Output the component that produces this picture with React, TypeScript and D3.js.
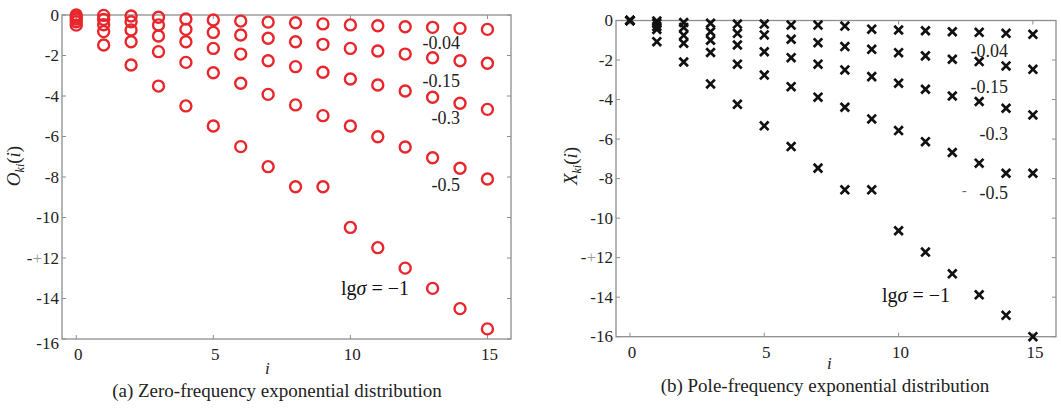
import React, { useEffect, useRef } from 'react';
import * as d3 from 'd3';

// sample index i
const indices = [0, 1, 2, 3, 4, 5, 6, 7, 8, 9, 10, 11, 12, 13, 14, 15];
const xTicks = [0, 5, 10, 15];
const yTicks = [0, -2, -4, -6, -8, -10, -12, -14, -16];
const yTickLabels = ['0', '-2', '-4', '-6', '-8', '-10', '-+12', '-14', '-16'];
const sigmaLabels = ['-0.04', '-0.15', '-0.3', '-0.5'];

// (a) zero-frequency, one array per lg(sigma)
const zeroS004 = [0, -0.02, -0.05, -0.11, -0.2, -0.25, -0.3, -0.35, -0.38, -0.44, -0.49, -0.53, -0.58, -0.61, -0.66, -0.71];
const zeroS015 = [-0.1, -0.22, -0.33, -0.49, -0.71, -0.86, -0.99, -1.15, -1.32, -1.45, -1.65, -1.78, -1.93, -2.11, -2.26, -2.38];
const zeroS03 = [-0.2, -0.48, -0.74, -1.04, -1.32, -1.65, -1.93, -2.26, -2.55, -2.83, -3.16, -3.46, -3.75, -4.06, -4.36, -4.66];
const zeroS05 = [-0.33, -0.82, -1.32, -1.81, -2.34, -2.85, -3.37, -3.92, -4.44, -4.97, -5.48, -6.01, -6.52, -7.05, -7.57, -8.1];
const zeroS1 = [-0.5, -1.48, -2.47, -3.51, -4.49, -5.48, -6.5, -7.49, -8.48, -8.48, -10.49, -11.49, -12.5, -13.5, -14.5, -15.5];

// (b) pole-frequency
const poleS004 = [0, -0.03, -0.1, -0.14, -0.18, -0.18, -0.23, -0.23, -0.28, -0.44, -0.48, -0.52, -0.57, -0.6, -0.65, -0.7];
const poleS015 = [0, -0.15, -0.35, -0.57, -0.65, -0.73, -0.95, -1.12, -1.32, -1.46, -1.63, -1.79, -1.96, -2.08, -2.3, -2.47];
const poleS03 = [0, -0.3, -0.75, -1.0, -1.24, -1.58, -1.88, -2.21, -2.5, -2.84, -3.17, -3.48, -3.82, -4.1, -4.44, -4.78];
const poleS05 = [0, -0.45, -1.15, -1.62, -2.21, -2.76, -3.35, -3.88, -4.39, -4.98, -5.57, -6.13, -6.68, -7.22, -7.73, -7.73];
const poleS1 = [0, -1.07, -2.1, -3.21, -4.24, -5.33, -6.38, -7.47, -8.57, -8.57, -10.64, -11.72, -12.82, -13.88, -14.92, -16.0];

const FONT = '"Liberation Serif", "Times New Roman", serif';
const AXIS = '#8e8e8e';
const RED = '#e8262b';

function drawPanel(svg, p) {
  const x = d3.scaleLinear().domain([-0.52, 15.86]).range([p.left, p.right]);
  const y = d3.scaleLinear().domain([0, -16]).range([p.top, p.bottom]);
  const g = svg.append('g');

  // box with inward ticks on all sides
  g.append('rect')
    .attr('x', p.left).attr('y', p.top)
    .attr('width', p.right - p.left).attr('height', p.bottom - p.top)
    .attr('fill', 'none').attr('stroke', AXIS).attr('stroke-width', 1.3);

  const tl = 4;
  xTicks.forEach((t) => {
    g.append('line').attr('x1', x(t)).attr('x2', x(t)).attr('y1', p.bottom).attr('y2', p.bottom - tl)
      .attr('stroke', AXIS);
    g.append('line').attr('x1', x(t)).attr('x2', x(t)).attr('y1', p.top).attr('y2', p.top + tl)
      .attr('stroke', AXIS);
    g.append('text').attr('x', x(t) + 2).attr('y', p.bottom + 21)
      .attr('text-anchor', 'middle').attr('font-family', FONT).attr('font-size', 17).attr('fill', '#222')
      .text(t);
  });
  yTicks.forEach((t, k) => {
    g.append('line').attr('x1', p.left).attr('x2', p.left + tl).attr('y1', y(t)).attr('y2', y(t))
      .attr('stroke', AXIS);
    g.append('line').attr('x1', p.right).attr('x2', p.right - tl).attr('y1', y(t)).attr('y2', y(t))
      .attr('stroke', AXIS);
    const label = yTickLabels[k];
    const txt = g.append('text').attr('x', p.left - 3).attr('y', y(t) + 5.5 + (t === -16 ? p.lastShift : 0))
      .attr('text-anchor', 'end').attr('font-family', FONT).attr('font-size', 17).attr('fill', '#222');
    if (label.includes('+')) {
      const parts = label.split('+');
      txt.append('tspan').text(parts[0]);
      txt.append('tspan').attr('fill', '#999').text('+');
      txt.append('tspan').text(parts[1]);
    } else {
      txt.text(label);
    }
  });

  // markers
  p.series.forEach((values) => {
    const pts = g.append('g');
    values.forEach((v, k) => {
      const cx = x(indices[k]);
      const cy = y(v);
      if (p.marker === 'circle') {
        pts.append('circle').attr('cx', cx).attr('cy', cy).attr('r', 5.5)
          .attr('fill', 'none').attr('stroke', RED).attr('stroke-width', 2.4);
      } else {
        const s = 4.3;
        pts.append('path')
          .attr('d', `M${cx - s},${cy - s}L${cx + s},${cy + s}M${cx - s},${cy + s}L${cx + s},${cy - s}`)
          .attr('stroke', '#111').attr('stroke-width', 2.7).attr('fill', 'none');
      }
    });
  });

  // series labels
  sigmaLabels.forEach((s, k) => {
    g.append('text').attr('x', p.right - p.labelInset).attr('y', p.labelY[k])
      .attr('text-anchor', 'end').attr('font-family', FONT).attr('font-size', 18).attr('fill', '#222')
      .text(s);
  });
  const lg = g.append('text').attr('x', p.lgX).attr('y', p.lgY)
    .attr('font-family', FONT).attr('font-size', 20).attr('fill', '#111');
  lg.append('tspan').text('lg');
  lg.append('tspan').attr('font-style', 'italic').text('σ');
  lg.append('tspan').text(' = −1');

  // axis titles
  g.append('text').attr('x', p.iX).attr('y', p.iY)
    .attr('font-family', FONT).attr('font-style', 'italic').attr('font-size', 17).attr('fill', '#222')
    .text('i');
  const yl = g.append('text')
    .attr('transform', `translate(${p.yLabelX},${p.yLabelY}) rotate(-90)`)
    .attr('text-anchor', 'middle').attr('font-family', FONT).attr('font-size', 19).attr('fill', '#222');
  yl.append('tspan').attr('font-style', 'italic').text(p.yLetter);
  yl.append('tspan').attr('font-style', 'italic').attr('font-size', 12).attr('dy', 4).text('ki');
  yl.append('tspan').attr('dy', -4).text('(');
  yl.append('tspan').attr('font-style', 'italic').text('i');
  yl.append('tspan').text(')');

  g.append('text').attr('x', p.captionX).attr('y', p.captionY)
    .attr('text-anchor', 'middle').attr('font-family', FONT).attr('font-size', 19).attr('fill', '#222')
    .text(p.caption);
}

function App() {
  const ref = useRef(null);

  useEffect(() => {
    const svg = d3.select(ref.current);
    svg.selectAll('*').remove();

    drawPanel(svg, {
      left: 62, right: 511, top: 15, bottom: 339,
      marker: 'circle',
      series: [zeroS004, zeroS015, zeroS03, zeroS05, zeroS1],
      labelInset: 51, labelY: [49, 87, 124, 191],
      lgX: 341, lgY: 295,
      iX: 265, iY: 374,
      yLetter: 'O', yLabelX: 20, yLabelY: 166,
      caption: '(a) Zero-frequency exponential distribution', captionX: 277, captionY: 397,
      lastShift: 4,
    });

    drawPanel(svg, {
      left: 616, right: 1056, top: 20.5, bottom: 336.7,
      marker: 'cross',
      series: [poleS004, poleS015, poleS03, poleS05, poleS1],
      labelInset: 48, labelY: [57, 93, 140, 199],
      lgX: 882, lgY: 302,
      iX: 827, iY: 369,
      yLetter: 'X', yLabelX: 577, yLabelY: 166,
      caption: '(b) Pole-frequency exponential distribution', captionX: 825, captionY: 392,
      lastShift: 0,
    });

    svg.append('text').attr('x', 962).attr('y', 195)
      .attr('font-family', FONT).attr('font-size', 14).attr('fill', '#666').text('-');
  }, []);

  return (
    <svg
      ref={ref}
      width={1061}
      height={409}
      style={{ position: 'absolute', left: 0, top: 0, background: '#fff' }}
    />
  );
}

export default App;
